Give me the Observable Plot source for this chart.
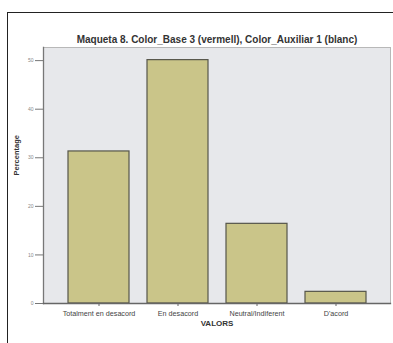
<!DOCTYPE html>
<html>
<head>
<meta charset="utf-8">
<script src="https://cdn.jsdelivr.net/npm/d3@7"></script>
<script src="https://cdn.jsdelivr.net/npm/@observablehq/plot@0.6"></script>
<style>
  html, body { margin: 0; padding: 0; background: #fff; overflow: hidden; }
  #wrap { position: relative; width: 393px; height: 343px; }
  #border { position: absolute; left: 7px; top: 12px; width: 420px; height: 400px; border: 1.5px solid #222; box-sizing: border-box; pointer-events: none; }
  svg { display: block; font-family: "Liberation Sans", Arial, sans-serif; }
</style>
</head>
<body>
<div id="wrap"><div id="border"></div></div>
<script>
const categories = ["Totalment en desacord", "En desacord", "Neutral/Indiferent", "D'acord"];
const values = [31.3, 50.1, 16.4, 2.4];
const yTicks = [0, 10, 20, 30, 40, 50];
const title = "Maqueta 8. Color_Base 3 (vermell), Color_Auxiliar 1 (blanc)";
const xTitle = "VALORS";
const yTitle = "Percentage";

const data = categories.map((c, i) => ({cat: c, val: values[i]}));

const chart = Plot.plot({
  width: 393,
  height: 343,
  marginLeft: 43,
  marginRight: 3,
  marginTop: 47,
  marginBottom: 40,
  style: {background: "transparent", fontFamily: "Liberation Sans, Arial, sans-serif"},
  x: {domain: categories, paddingInner: 0.234, paddingOuter: 0.295, label: null},
  y: {domain: [0, 52.7], label: null},
  marks: [
    Plot.frame({fill: "#e7e8eb", stroke: "#b8b8b8"}),
    Plot.barY(data, {x: "cat", y: "val", fill: "#cac589", stroke: "#55554a", strokeWidth: 1.2}),
    Plot.frame({anchor: "left", stroke: "#777", strokeWidth: 1.3}),
    Plot.frame({anchor: "bottom", stroke: "#666", strokeWidth: 1.3}),
    Plot.axisY({ticks: yTicks, tickSize: 8, tickPadding: 2, fontSize: 5, stroke: "#777", color: "#888", label: null}),
    Plot.axisX({tickSize: 3, tickPadding: 4, fontSize: 7.2, fill: "#444", stroke: "#666", label: null}),
    Plot.text([title], {frameAnchor: "top", dy: -12, fontSize: 10, fontWeight: "bold", fill: "#333"}),
    Plot.text([xTitle], {frameAnchor: "bottom", dy: 22, fontSize: 8, fontWeight: "bold", fill: "#333"}),
    Plot.text([yTitle], {frameAnchor: "left", dx: -27, rotate: -90, fontSize: 7.5, fontWeight: "bold", fill: "#333"})
  ]
});
document.getElementById("wrap").appendChild(chart);
</script>
</body>
</html>
